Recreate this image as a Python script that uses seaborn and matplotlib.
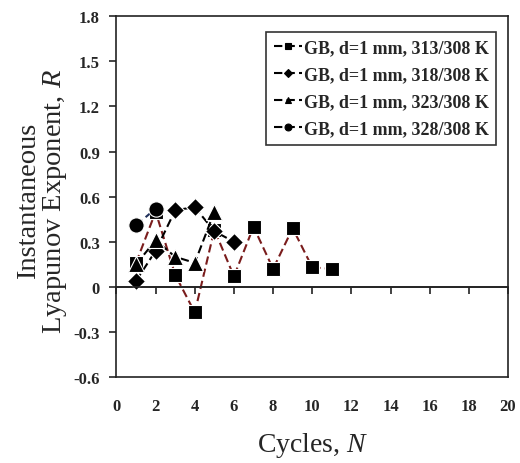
import matplotlib
matplotlib.use("Agg")
import matplotlib.pyplot as plt
import seaborn as sns
import numpy as np

sns.set_theme(style="white")
plt.rcParams['font.family'] = ['Liberation Serif', 'DejaVu Serif']
plt.rcParams['mathtext.fontset'] = 'custom'
plt.rcParams['mathtext.rm'] = 'Liberation Serif'
plt.rcParams['mathtext.it'] = 'Liberation Serif:italic'

# Data
labels = ["GB, d=1 mm, 313/308 K", "GB, d=1 mm, 318/308 K",
          "GB, d=1 mm, 323/308 K", "GB, d=1 mm, 328/308 K"]
n_313 = [1, 2, 3, 4, 5, 6, 7, 8, 9, 10, 11]
r_313 = [0.16, 0.50, 0.08, -0.17, 0.38, 0.07, 0.40, 0.12, 0.39, 0.13, 0.12]
n_318 = [1, 2, 3, 4, 5, 6]
r_318 = [0.04, 0.24, 0.51, 0.53, 0.37, 0.30]
n_323 = [1, 2, 3, 4, 5]
r_323 = [0.15, 0.31, 0.20, 0.16, 0.50]
n_328 = [1, 2]
r_328 = [0.41, 0.52]
x_ticks = [0, 2, 4, 6, 8, 10, 12, 14, 16, 18, 20]
y_ticks = [-0.6, -0.3, 0, 0.3, 0.6, 0.9, 1.2, 1.5, 1.8]
y_ticklabels = ["-0.6", "-0.3", "0", "0.3", "0.6", "0.9", "1.2", "1.5", "1.8"]

fig = plt.figure(figsize=(5.2, 4.64), dpi=100)
ax = fig.add_axes([0.224, 0.185, 0.753, 0.778])

series = [
    (n_313, r_313, 's', '#7a1c1c', 10),
    (n_318, r_318, 'D', 'black', 9),
    (n_323, r_323, '^', 'black', 11),
    (n_328, r_328, 'o', '#1f2f5a', 11),
]
for (xs, ys, mk, col, ms), lab in zip(series, labels):
    sns.lineplot(x=xs, y=ys, ax=ax, marker=mk, markersize=ms, color=col,
                 linestyle=(0, (4, 2)), linewidth=1.5, markerfacecolor='black',
                 markeredgecolor='white', markeredgewidth=0.8, label=lab,
                 sort=False)

ax.set_xlim(0, 20)
ax.set_ylim(-0.6, 1.8)

# main x axis at y=0 with tick marks, labels on a bottom secondary axis
for s in ax.spines.values():
    s.set_color('#222222')
    s.set_linewidth(1.2)
ax.axhline(0, color='#222222', linewidth=1.2, zorder=1)
ax.set_xticks(x_ticks)
ax.tick_params(axis='x', bottom=True, direction='out', length=5, width=1.2,
               labelbottom=False, colors='#222222')
ax.spines['bottom'].set_position(('data', 0))

sec = ax.secondary_xaxis(0)
sec.set_xticks(x_ticks)
sec.tick_params(axis='x', length=0, pad=15, labelsize=12)
for t in sec.get_xticklabels():
    t.set_fontweight('bold')
sec.spines['bottom'].set_color('#222222')
sec.spines['bottom'].set_linewidth(1.2)

ax.set_yticks(y_ticks)
ax.set_yticklabels(y_ticklabels, fontsize=12, fontweight='bold')
ax.tick_params(axis='y', left=True, direction='out', length=5, width=1.2, pad=7)

ax.set_xlabel("Cycles, $\\it{N}$", fontsize=20)
ax.xaxis.set_label_coords(0.5, -0.145)
sec.set_xlabel("")
ax.set_ylabel("Instantaneous\nLyapunov Exponent, $\\it{R}$", fontsize=20.5,
              linespacing=1.0)
ax.yaxis.set_label_coords(-0.122, 0.49)

leg = ax.legend(loc='upper right', bbox_to_anchor=(0.97, 0.955),
                fontsize=13, frameon=True, fancybox=False, handlelength=1.6,
                handletextpad=0.1, borderpad=0.4, labelspacing=0.55,
                markerscale=0.45, borderaxespad=0)
leg.get_frame().set_edgecolor('black')
leg.get_frame().set_linewidth(1.2)
for t in leg.get_texts():
    t.set_fontweight('bold')
for h in leg.legend_handles:
    h.set_color('black')
    h.set_markeredgecolor('black')

fig.savefig("out.png", dpi=100)
